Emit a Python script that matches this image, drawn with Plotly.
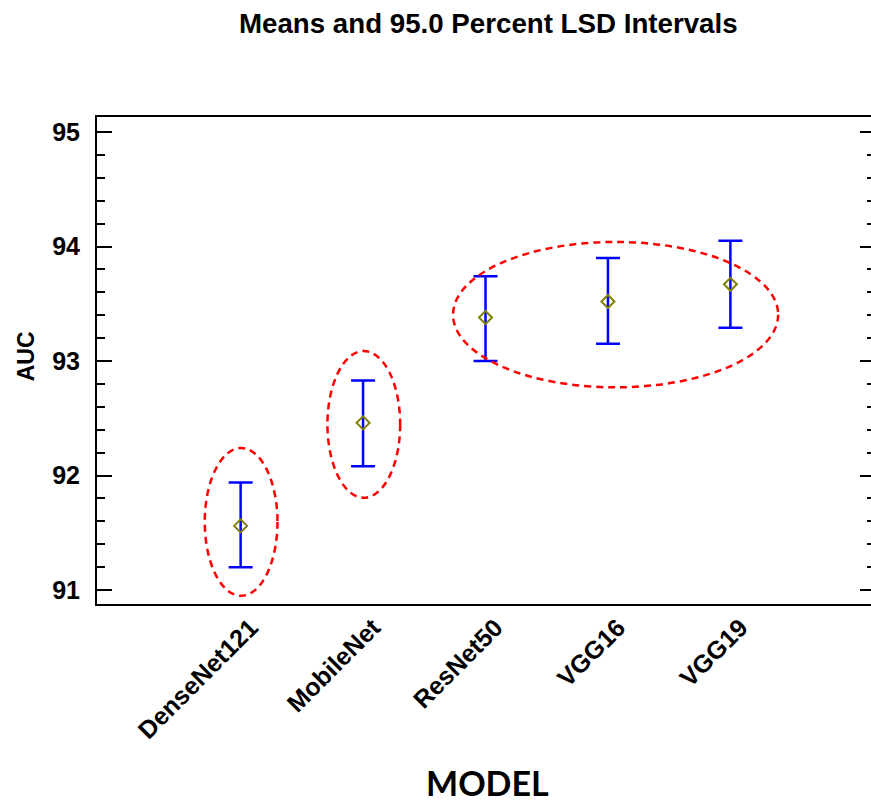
import plotly.graph_objects as go

# ---- data ----
models = ["DenseNet121", "MobileNet", "ResNet50", "VGG16", "VGG19"]
means = [91.56, 92.46, 93.38, 93.52, 93.67]
lower = [91.20, 92.08, 93.00, 93.15, 93.29]
upper = [91.94, 92.83, 93.74, 93.90, 94.05]

y_ticks = [91, 92, 93, 94, 95]

# highlighted groups (red dashed ellipses): x0, x1, y0, y1 in data units
ell_x0 = [-0.293, 0.709, 1.735]
ell_x1 = [0.301, 1.303, 4.39]
ell_y0 = [90.95, 91.806, 92.77]
ell_y1 = [92.24, 93.087, 94.04]

plus = [u - m for u, m in zip(upper, means)]
minus = [m - l for m, l in zip(means, lower)]

FONT = "Liberation Sans, Arial, sans-serif"
X_RANGE = [-1.173, 5.181]
Y_RANGE = [90.878, 95.131]

fig = go.Figure()

fig.add_trace(go.Scatter(
    x=models, y=means, mode="markers",
    marker=dict(symbol="diamond-open", size=10, color="#808000",
                line=dict(width=2, color="#808000")),
    error_y=dict(type="data", symmetric=False, array=plus, arrayminus=minus,
                 color="#0000FF", thickness=2.5, width=12),
    showlegend=False, hoverinfo="skip",
))

for x0, x1, y0, y1 in zip(ell_x0, ell_x1, ell_y0, ell_y1):
    fig.add_shape(type="circle", xref="x", yref="y",
                  x0=x0, x1=x1, y0=y0, y1=y1,
                  line=dict(color="#FF0000", width=2.5, dash="7px,5px"))

fig.update_layout(
    width=878, height=802,
    margin=dict(l=97, r=1, t=117, b=198),
    paper_bgcolor="white", plot_bgcolor="white",
    font=dict(family=FONT, color="black"),
    xaxis=dict(
        type="category", range=X_RANGE,
        showline=True, linecolor="black", linewidth=2, mirror=True,
        showgrid=False, zeroline=False, ticks="",
        tickangle=-45, ticklabelshift=10, ticklabelstandoff=-3,
        tickfont=dict(family=FONT, size=25, color="black", weight="bold"),
    ),
    yaxis=dict(
        range=Y_RANGE, tickvals=y_ticks,
        showline=True, linecolor="black", linewidth=2, mirror="ticks",
        showgrid=False, zeroline=False,
        ticks="inside", ticklen=15, tickwidth=2, tickcolor="black",
        ticklabelstandoff=10,
        minor=dict(dtick=0.2, ticks="inside", ticklen=8, tickwidth=2,
                   tickcolor="black", showgrid=False),
        tickfont=dict(family=FONT, size=25, color="black", weight="bold"),
    ),
    annotations=[
        dict(text="<b>Means and 95.0 Percent LSD Intervals</b>",
             xref="paper", yref="paper", x=0.5026, y=1.193,
             xanchor="center", yanchor="middle", showarrow=False,
             font=dict(family=FONT, size=27.7, color="black")),
        dict(text="<b>AUC</b>", xref="paper", yref="paper",
             x=-0.091, y=0.509, textangle=-90,
             xanchor="center", yanchor="middle", showarrow=False,
             font=dict(family=FONT, size=23, color="black")),
        dict(text="<b>MODEL</b>", xref="paper", yref="paper",
             x=0.502, y=-0.366, xanchor="center", yanchor="middle",
             showarrow=False,
             font=dict(family="Lato, sans-serif", size=34, color="black")),
    ],
)

fig.write_html(
    "out.html",
    config={"displayModeBar": False},
    post_script="document.body.style.margin='0';"
                "document.body.style.overflow='hidden';"
                "document.documentElement.style.overflow='hidden';",
)
